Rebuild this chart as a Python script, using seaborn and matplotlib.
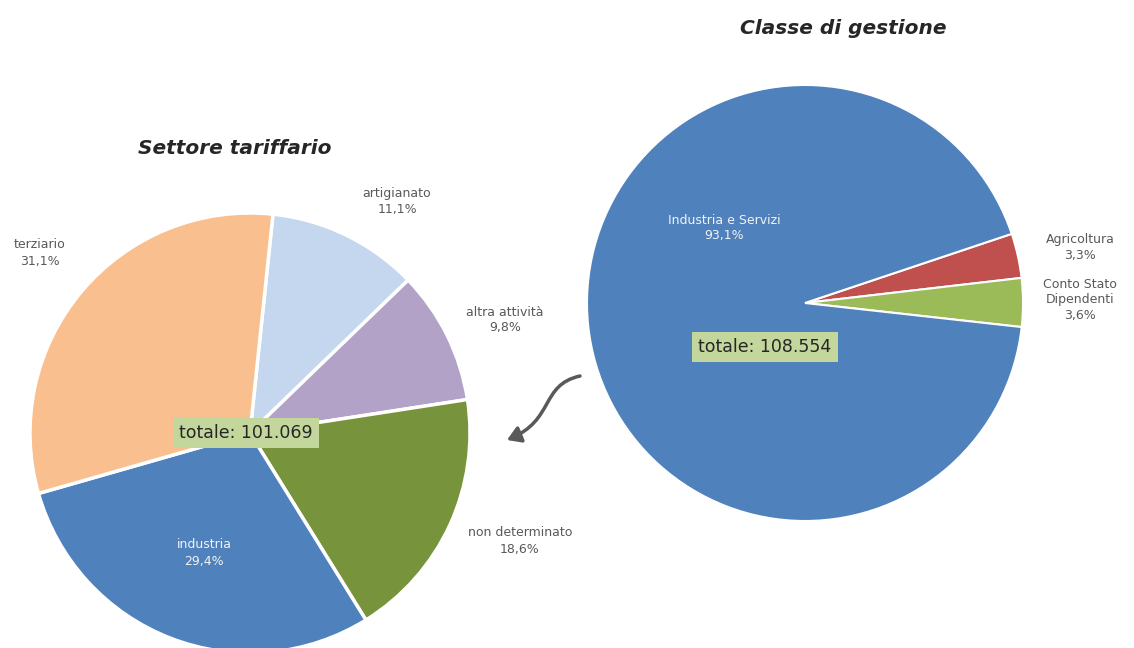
import matplotlib
matplotlib.use("Agg")
import matplotlib.pyplot as plt
import seaborn as sns
from matplotlib.path import Path
from matplotlib.patches import FancyArrowPatch

# data
settore_labels = ["artigianato", "altra attività", "non determinato", "industria", "terziario"]
settore_pct = [11.1, 9.8, 18.6, 29.4, 31.1]
settore_totale = "101.069"

classe_labels = ["Agricoltura", "Conto Stato\nDipendenti", "Industria e Servizi"]
classe_pct = [3.3, 3.6, 93.1]
classe_totale = "108.554"

sns.set_theme(style="white")
plt.rcParams["font.family"] = ["DejaVu Sans"]

settore_colors = sns.color_palette(["#C5D7EE", "#B3A2C7", "#77933C", "#4F81BD", "#F9BF8F"])
classe_colors = sns.color_palette(["#C0504D", "#9BBB59", "#4F81BD"])

W, H = 1134, 648


def fy(y):
    # pixel row (top-down) to data y (bottom-up)
    return H - y


def pct(v):
    return f"{v:.1f}".replace(".", ",") + "%"


fig = plt.figure(figsize=(W / 100, H / 100), dpi=100)
ax = fig.add_axes([0, 0, 1, 1])

# left pie: Settore tariffario
ax.pie(settore_pct, colors=settore_colors, startangle=84, counterclock=False,
       center=(250, fy(433)), radius=220, explode=[0.025] * 5,
       wedgeprops=dict(edgecolor="white", linewidth=2.5))

settore_pos = [(397, 201), (505, 320), (520, 541), (204, 553), (40, 253)]
for lab, v, (x, y) in zip(settore_labels, settore_pct, settore_pos):
    col = "#F2F2F2" if lab == "industria" else "#595959"
    ax.text(x, fy(y), f"{lab}\n{pct(v)}", ha="center", va="center",
            fontsize=9, color=col, linespacing=1.3)

ax.text(246, fy(433), f"totale: {settore_totale}", ha="center", va="center",
        fontsize=12.5, color="#262626",
        bbox=dict(boxstyle="square,pad=0.35", fc="#C3D69B", ec="none"))
ax.text(235, fy(148), "Settore tariffario", ha="center", va="center",
        fontsize=14.5, fontweight="bold", fontstyle="italic", color="#262626")

# right pie: Classe di gestione
ax.pie(classe_pct, colors=classe_colors, startangle=18.5, counterclock=False,
       center=(805, fy(303)), radius=218, explode=[0.03, 0.03, 0.0],
       wedgeprops=dict(edgecolor="white", linewidth=1.5))

classe_pos = [(1080, 247), (1080, 300), (724, 228)]
for lab, v, (x, y) in zip(classe_labels, classe_pct, classe_pos):
    col = "#F2F2F2" if lab.startswith("Industria") else "#595959"
    ax.text(x, fy(y), f"{lab}\n{pct(v)}", ha="center", va="center",
            fontsize=9, color=col, linespacing=1.3)

ax.text(765, fy(347), f"totale: {classe_totale}", ha="center", va="center",
        fontsize=12.5, color="#262626",
        bbox=dict(boxstyle="square,pad=0.35", fc="#C3D69B", ec="none"))
ax.text(843, fy(29), "Classe di gestione", ha="center", va="center",
        fontsize=14.5, fontweight="bold", fontstyle="italic", color="#262626")

# curved arrow from right pie to left pie
arrow_path = Path([(580, fy(376)), (540, fy(385)), (555, fy(420)), (507, fy(440))],
                  [Path.MOVETO, Path.CURVE4, Path.CURVE4, Path.CURVE4])
ax.add_patch(FancyArrowPatch(path=arrow_path, arrowstyle="-|>,head_length=8,head_width=5",
                             color="#595959", linewidth=2.5))

ax.set_xlim(0, W)
ax.set_ylim(0, H)
ax.set_aspect("auto")
ax.axis("off")

plt.savefig("out.png", dpi=100)
